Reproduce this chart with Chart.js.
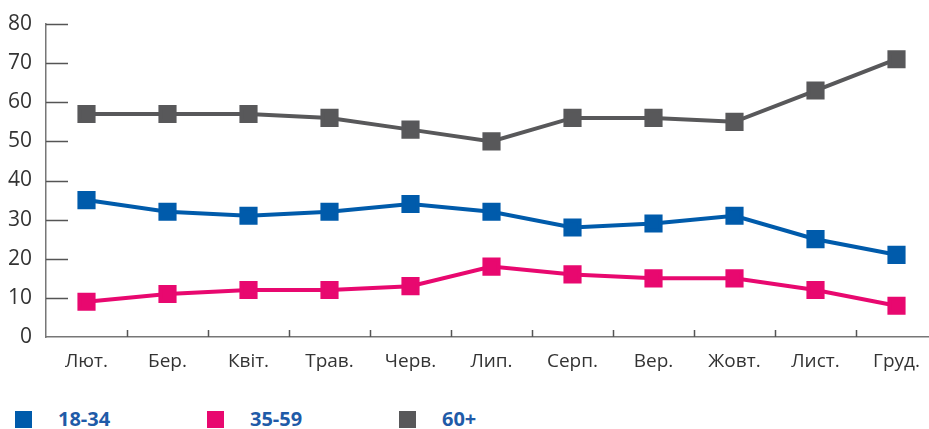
<!DOCTYPE html>
<html>
<head>
<meta charset="utf-8">
<script src="https://cdn.jsdelivr.net/npm/chart.js@4"></script>
<style>
  body { margin: 0; background: #fff; font-family: "Open Sans", sans-serif; overflow: hidden; }
  #wrap { position: relative; width: 929px; height: 429px; overflow: hidden; }
  #legend { position: absolute; left: 0; top: 404px; height: 25px; }
  .item { position: absolute; top: 0; white-space: nowrap; }
  .box { position: absolute; top: 7px; width: 17px; height: 17px; }
  .lbl { position: absolute; top: 0; font-weight: bold; font-size: 20px; color: #1f5ba8; line-height: 30px; }
</style>
</head>
<body>
<div id="wrap">
  <canvas id="chart" width="951" height="385"></canvas>
  <div id="legend"></div>
</div>
<script>
// Chart data
const months = ["Лют.", "Бер.", "Квіт.", "Трав.", "Черв.", "Лип.", "Серп.", "Вер.", "Жовт.", "Лист.", "Груд."];
const age18to34 = [35, 32, 31, 32, 34, 32, 28, 29, 31, 25, 21];
const age35to59 = [9, 11, 12, 12, 13, 18, 16, 15, 15, 12, 8];
const age60plus = [57, 57, 57, 56, 53, 50, 56, 56, 55, 63, 71];
const seriesNames = ["18-34", "35-59", "60+"];
const seriesColors = ["#005bab", "#e8086f", "#58585a"];

// inward tick marks on both axes
const innerTicks = {
  id: "innerTicks",
  afterDraw(chart) {
    const ctx = chart.ctx;
    const x = chart.scales.x;
    const y = chart.scales.y;
    ctx.save();
    ctx.strokeStyle = "#555";
    ctx.lineWidth = 1.5;
    ctx.beginPath();
    y.ticks.forEach((t, i) => {
      if (i === 0) return;
      const py = Math.round(y.getPixelForValue(t.value)) + 0.5;
      ctx.moveTo(x.left, py);
      ctx.lineTo(x.left + 22, py);
    });
    for (let i = 1; i < months.length; i++) {
      const px = Math.round((x.getPixelForValue(i - 1) + x.getPixelForValue(i)) / 2) + 0.5;
      ctx.moveTo(px, y.bottom);
      ctx.lineTo(px, y.bottom - 7);
    }
    ctx.stroke();
    ctx.restore();
  }
};

const makeSet = (label, data, color) => ({
  label: label,
  data: data,
  borderColor: color,
  backgroundColor: color,
  borderWidth: 4,
  pointStyle: "rect",
  pointRadius: 10,
  pointHoverRadius: 10,
  tension: 0,
  fill: false
});

new Chart(document.getElementById("chart"), {
  type: "line",
  data: {
    labels: months,
    datasets: [
      makeSet(seriesNames[0], age18to34, seriesColors[0]),
      makeSet(seriesNames[1], age35to59, seriesColors[1]),
      makeSet(seriesNames[2], age60plus, seriesColors[2])
    ]
  },
  options: {
    responsive: false,
    animation: false,
    layout: { padding: { top: 24, right: 0, left: 0, bottom: 0 } },
    plugins: {
      legend: { display: false },
      tooltip: { enabled: false }
    },
    scales: {
      x: {
        offset: true,
        grid: { display: false },
        border: { color: "#777", width: 1.5 },
        ticks: { color: "#333", font: { family: "Open Sans", size: 19 }, padding: 5 },
        afterFit: (s) => { s.height = 48; }
      },
      y: {
        min: 0,
        max: 80,
        grid: { display: false },
        border: { color: "#777", width: 1.5 },
        ticks: { stepSize: 10, color: "#333", font: { family: "Open Sans", size: 21 }, padding: 6 },
        afterFit: (s) => { s.width = 46; }
      }
    }
  },
  plugins: [innerTicks]
});

// legend below the chart
const legend = document.getElementById("legend");
seriesNames.forEach((name, i) => {
  const item = document.createElement("div");
  item.className = "item";
  item.style.left = (15 + i * 192) + "px";
  item.innerHTML = '<span class="box" style="left:0;background:' + seriesColors[i] + '"></span>' +
    '<span class="lbl" style="left:43px">' + name + '</span>';
  legend.appendChild(item);
});
</script>
</body>
</html>
